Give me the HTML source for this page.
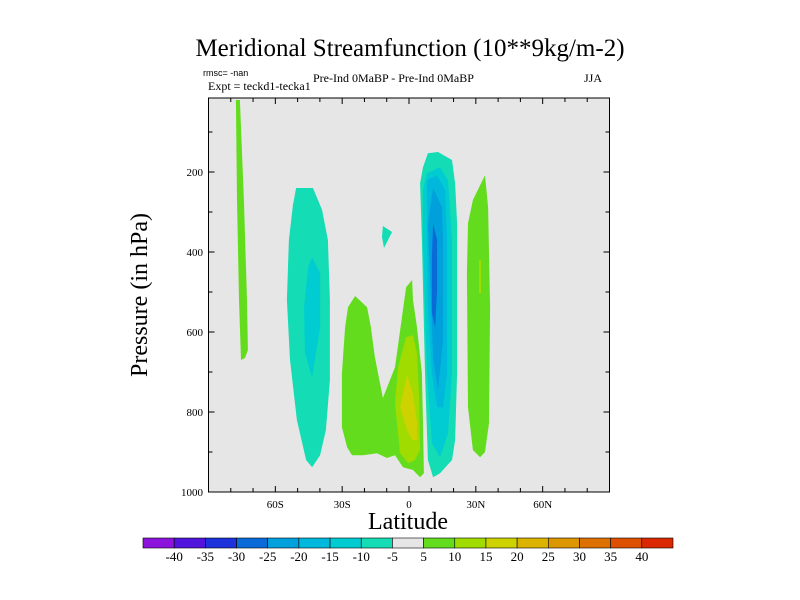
<!DOCTYPE html>
<html><head><meta charset="utf-8"><style>
body{margin:0;background:#fff;}
svg{display:block;font-family:"Liberation Serif",serif;}
</style></head><body>
<svg id="c" width="800" height="600" viewBox="0 0 800 600">
<text x="410" y="56" text-anchor="middle" font-size="25">Meridional Streamfunction (10**9kg/m-2)</text>
<text x="203" y="76" font-size="9" font-family="Liberation Sans,sans-serif">rmsc= -nan</text>
<text x="208" y="90" font-size="12">Expt = teckd1-tecka1</text>
<text x="313" y="82" font-size="12">Pre-Ind 0MaBP - Pre-Ind 0MaBP</text>
<text x="602" y="82" font-size="12" text-anchor="end">JJA</text>
<rect x="208.5" y="98" width="401" height="394" fill="#e6e6e6"/>
<g id="fills"></g>
<rect x="208.5" y="98" width="401" height="394" fill="none" stroke="#000" stroke-width="1"/>
<g id="axes" font-size="11"></g>
<text x="408" y="529" text-anchor="middle" font-size="24">Latitude</text>
<text transform="translate(147,295) rotate(-90)" text-anchor="middle" font-size="24">Pressure (in hPa)</text>
<g id="cbar"></g>
</svg>
<script>
const levels=[-40,-35,-30,-25,-20,-15,-10,-5,5,10,15,20,25,30,35,40];
const colors=["#8c14dc","#5014dc","#1e32dc","#0a6ad8","#00a0dc","#00b8dc","#00ccd2","#14dcb4","#e6e6e6","#64dc1e","#a0dc00","#cdd200","#dcb400","#dc9600","#dc7000","#dc5000","#dc2800"];
const xTicks=[-60,-30,0,30,60];
const xTickLabels=["60S","30S","0","30N","60N"];
const yTicks=[200,400,600,800,1000];
// contour regions: [colorIndex, [[lat,p],...]]
const shapeA=[9,[[-77.7,20],[-75.9,20],[-74.1,270],[-72.7,520],[-72.3,645],[-73.6,665],[-75.4,670],[-76.3,520],[-77.2,270]]];
const shapeB=[7,[[-50.7,240],[-43.1,240],[-39.0,295],[-36.4,370],[-35.5,520],[-35.5,720],[-37.3,845],[-39.9,908],[-43.5,938],[-46.2,920],[-50.3,820],[-53.4,670],[-54.8,520],[-53.9,370],[-52.1,283]]];
const shapeBin=[6,[[-43.5,413],[-39.9,453],[-39.9,588],[-43.5,713],[-46.7,653],[-47.1,538],[-45.3,438]]];
const blob=[7,[[-11.7,335],[-7.6,350],[-11.2,390],[-12.1,363]]];
const shapeC=[9,[[-24.2,510],[-18.8,538],[-17.1,588],[-15.3,663],[-11.7,765],[-6.3,688],[-1.3,488],[1.4,470],[1.8,520],[3.6,588],[5.8,703],[6.3,828],[6.7,953],[5.0,963],[1.8,945],[-2.7,938],[-6.3,908],[-9.9,915],[-14.4,903],[-20.6,908],[-25.6,908],[-27.8,888],[-30.1,838],[-30.1,703],[-28.7,588],[-27.4,538]]];
const shapeC2=[10,[[-1.3,613],[1.8,608],[3.6,653],[4.5,753],[5.0,895],[2.7,920],[-0.4,928],[-4.0,903],[-6.3,778],[-4.9,688]]];
const shapeC3=[11,[[-0.9,708],[1.8,753],[3.6,828],[3.6,870],[1.4,870],[-0.9,845],[-4.0,788]]];
const shapeD1=[7,[[8.5,153],[13.0,150],[19.3,170],[20.7,228],[21.6,328],[21.6,703],[20.7,870],[19.3,920],[13.9,953],[10.8,963],[8.5,920],[7.2,703],[5.8,370],[5.0,228],[6.3,188]]];
const shapeD2=[6,[[8.1,203],[13.9,188],[17.5,220],[19.3,370],[19.3,703],[17.5,853],[13.9,913],[10.3,878],[8.1,703],[6.3,370],[6.3,245]]];
const shapeD3=[5,[[8.1,220],[12.6,208],[16.2,245],[17.1,370],[17.1,703],[15.3,788],[12.6,788],[10.3,703],[8.5,538],[8.1,370]]];
const shapeD4=[4,[[10.8,240],[14.8,288],[15.3,370],[15.3,620],[13.0,745],[10.8,663],[9.4,453],[8.5,328]]];
const shapeD5=[3,[[10.8,328],[12.6,370],[12.6,495],[11.7,588],[10.3,553],[10.3,413]]];
const shapeE=[9,[[34.1,208],[35.5,288],[36.4,538],[35.9,828],[34.1,900],[31.9,913],[28.7,895],[26.5,788],[26.0,453],[26.5,328],[28.7,270]]];
const shapeE2=[10,[[31.4,420],[32.3,420],[32.3,503],[31.4,503]]];
const shapes=[shapeA,shapeB,shapeBin,blob,shapeC,shapeC2,shapeC3,shapeD1,shapeD2,shapeD3,shapeD4,shapeD5,shapeE,shapeE2];
const names=["left-green","sh-teal","sh-inner","small-teal","green-center","center-10","center-15","blue-5","blue-10","blue-15","blue-20","blue-25","right-green","right-inner"];

const NS="http://www.w3.org/2000/svg";
const X=lat=>208.5+(lat+90)*401/180;
const Y=p=>92+p*0.4;
const fills=document.getElementById('fills');
shapes.forEach((s,i)=>{
  const pg=document.createElementNS(NS,'polygon');
  pg.setAttribute('points',s[1].map(q=>X(q[0]).toFixed(1)+','+Y(q[1]).toFixed(1)).join(' '));
  pg.setAttribute('fill',colors[s[0]]);
  
  
  fills.appendChild(pg);
});
const ax=document.getElementById('axes');
function line(x1,y1,x2,y2){const l=document.createElementNS(NS,'line');l.setAttribute('x1',x1);l.setAttribute('y1',y1);l.setAttribute('x2',x2);l.setAttribute('y2',y2);l.setAttribute('stroke','#000');ax.appendChild(l);return l;}
for(let lat=-80;lat<=80;lat+=10){
  const x=X(lat),big=lat%30===0;
  const t1=line(x,492,x,492-(big?6:4));
  
  
  const t2=line(x,98,x,98+(big?6:4));
  
  
}
xTicks.forEach((v,i)=>{
  const t=document.createElementNS(NS,'text');
  t.setAttribute('x',X(v));t.setAttribute('y',508);t.setAttribute('text-anchor','middle');
  t.textContent=xTickLabels[i];
  
  
  ax.appendChild(t);
});
for(let p=100;p<1000;p+=100){
  const y=Y(p),big=p%200===0;
  const t1=line(208.5,y,208.5+(big?6:4),y);
  
  
  const t2=line(609.5,y,609.5-(big?6:4),y);
  
  
}
yTicks.forEach(v=>{
  const t=document.createElementNS(NS,'text');
  t.setAttribute('x',203);t.setAttribute('y',Y(v)+4);t.setAttribute('text-anchor','end');
  t.textContent=v;
  
  
  ax.appendChild(t);
});
const cb=document.getElementById('cbar');
const cx0=143,cw=530/colors.length;
colors.forEach((c,i)=>{
  const r=document.createElementNS(NS,'rect');
  r.setAttribute('x',cx0+i*cw);r.setAttribute('y',538);r.setAttribute('width',cw);r.setAttribute('height',10);
  r.setAttribute('fill',c);r.setAttribute('stroke','#000');r.setAttribute('stroke-width','0.6');
  
  
  cb.appendChild(r);
});
levels.forEach((v,i)=>{
  const t=document.createElementNS(NS,'text');
  t.setAttribute('x',cx0+(i+1)*cw);t.setAttribute('y',561);t.setAttribute('text-anchor','middle');t.setAttribute('font-size','13');
  t.textContent=v;
  
  
  cb.appendChild(t);
});
</script>
</body></html>
